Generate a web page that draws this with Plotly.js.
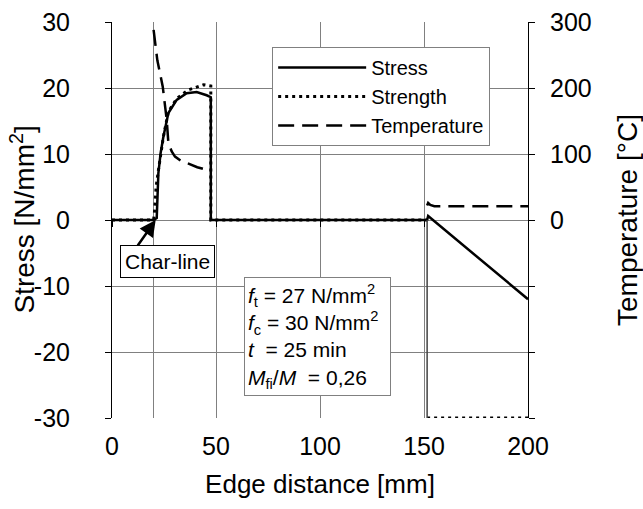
<!DOCTYPE html>
<html>
<head>
<meta charset="utf-8">
<script src="https://cdn.plot.ly/plotly-3.0.1.min.js"></script>
<style>html,body{margin:0;padding:0;background:#fff;}#chart{width:643px;height:509px;}</style>
</head>
<body>
<div id="chart"></div>
<script>
// Edge distance [mm] and values
const xStress = [0, 20, 21.5, 21.8, 22.3, 23.4, 24.7, 27.1, 31.1, 35.9, 40.7, 45.5, 47.5, 47.5, 151.5, 152, 200];
const yStress = [0, 0, 0.3, 4.5, 7.1, 10.2, 12.6, 16.2, 18.2, 19.2, 19.4, 18.9, 18.6, 0, 0, 0.6, -12];

const xStrength = [0, 20, 20.5, 21.2, 22.3, 23.4, 24.7, 27.1, 31.1, 36.7, 41, 44, 47.5, 47.5, 151.5, null, 151.5, 200];
const yStrength = [0, 0, 1.5, 5, 7.5, 10.2, 12.6, 16.4, 18.4, 19.7, 20.2, 20.5, 20.3, 0, 0, null, -30, -30];

// strength drop at the steel edge (drawn solid in the reference)
const xStrengthDrop = [151.5, 151.5];
const yStrengthDrop = [0, -30];

const xTemp = [20, 21.8, 23.1, 24.4, 26.3, 27.1, 28.7, 30.3, 33, 36.7, 41, 45.5, null, 151.5, 152, 153, 155, 160, 200];
const yTemp = [288, 242, 222, 202, 152, 117, 104, 96, 90, 85, 80, 76, null, 22, 26, 23, 21, 21, 21];

const xTickVals = [0, 20, 50, 100, 150, 200];
const xTickText = ['0', '', '50', '100', '150', '200'];
const xMajorTicks = [0, 50, 100, 150, 200];
const yTickVals = [-30, -20, -10, 0, 10, 20, 30];
const yTickText = ['-30', '-20', '-10', '0', '10', '20', '30'];
const y2TickVals = [-300, -200, -100, 0, 100, 200, 300];
const y2TickText = ['', '', '', '0', '100', '200', '300'];

const FONT = 'Arial, "Liberation Sans", sans-serif';
const GRID = '#808080';

const traces = [
  {x: xStress, y: yStress, name: 'Stress', mode: 'lines', line: {color: '#000', width: 2.5}},
  {x: xStrength, y: yStrength, name: 'Strength', mode: 'lines', connectgaps: false, line: {color: '#000', width: 3, dash: '3px,4px'}},
  {x: xTemp, y: yTemp, name: 'Temperature', mode: 'lines', yaxis: 'y2', connectgaps: false, line: {color: '#000', width: 2.5, dash: '16px,8px'}},
  {x: xStrengthDrop, y: yStrengthDrop, mode: 'lines', showlegend: false, line: {color: '#444', width: 1.5}},
  {x: [0], y: [null], xaxis: 'x2', showlegend: false, hoverinfo: 'skip'}
];

const layout = {
  width: 643, height: 509,
  margin: {l: 112, r: 115, t: 22, b: 91},
  paper_bgcolor: '#fff', plot_bgcolor: '#fff',
  font: {family: FONT, color: '#000', size: 25},
  showlegend: true,
  legend: {x: 0.385, y: 0.937, xanchor: 'left', yanchor: 'top', bgcolor: '#fff', bordercolor: GRID, borderwidth: 1,
           font: {family: FONT, size: 20, color: '#000'}, itemwidth: 88, tracegroupgap: 0},
  xaxis: {range: [0, 200], tickvals: xTickVals, ticktext: xTickText, showgrid: true, gridcolor: GRID, gridwidth: 1,
          ticks: '', showline: false, zeroline: false, tickfont: {size: 25}, ticklabelstandoff: 11,
          title: {text: 'Edge distance [mm]', font: {size: 26}, standoff: 15}},
  xaxis2: {range: [0, 200], overlaying: 'x', anchor: 'free', position: 0.5, tickvals: xMajorTicks, ticks: 'outside', ticklen: 6,
           tickcolor: '#000', tickwidth: 1, showticklabels: false, showgrid: false, zeroline: false, showline: false},
  yaxis: {range: [-30, 30], tickvals: yTickVals, ticktext: yTickText, showgrid: true, gridcolor: GRID, gridwidth: 1, zeroline: false,
          showline: true, linecolor: '#000', linewidth: 1, ticks: 'outside', ticklen: 6, tickcolor: '#000',
          tickfont: {size: 25}, ticklabelstandoff: 30},
  yaxis2: {range: [-300, 300], overlaying: 'y', side: 'right', tickvals: y2TickVals, ticktext: y2TickText,
           showgrid: false, zeroline: false, showline: true, linecolor: '#000', linewidth: 1, ticks: 'outside',
           ticklen: 6, tickcolor: '#000', tickfont: {size: 25}, ticklabelstandoff: 10,
           title: {text: 'Temperature [°C]', font: {size: 28}, standoff: 26}},
  annotations: [
    {x: -0.215, y: 0.5, xref: 'paper', yref: 'paper', xanchor: 'center', yanchor: 'middle', textangle: -90,
     text: 'Stress [N/mm<sup>2</sup>]', showarrow: false, font: {size: 28}},
    {x: 21, y: 0, xref: 'x', yref: 'y', text: '', showarrow: true, arrowhead: 2, arrowsize: 1.3, arrowwidth: 2.5,
     arrowcolor: '#000', ax: -19, ay: 27},
    {x: 26.7, y: -6.3, xref: 'x', yref: 'y', text: 'Char-line', showarrow: false, font: {size: 21},
     bgcolor: '#fff', bordercolor: '#000', borderwidth: 1, borderpad: 4},
    {x: 63.5, y: -8.6, xref: 'x', yref: 'y', xanchor: 'left', yanchor: 'top', align: 'left', showarrow: false,
     font: {size: 21}, bgcolor: '#fff', bordercolor: GRID, borderwidth: 1, borderpad: 3,
     text: '<i>f</i><sub>t</sub> = 27 N/mm<sup>2</sup>  <br><i>f</i><sub>c</sub> = 30 N/mm<sup>2</sup><br><i>t</i>  = 25 min<br><i>M</i><sub>fi</sub>/<i>M</i>  = 0,26'}
  ]
};

Plotly.newPlot('chart', traces, layout, {displayModeBar: false, staticPlot: true});
</script>
</body>
</html>
